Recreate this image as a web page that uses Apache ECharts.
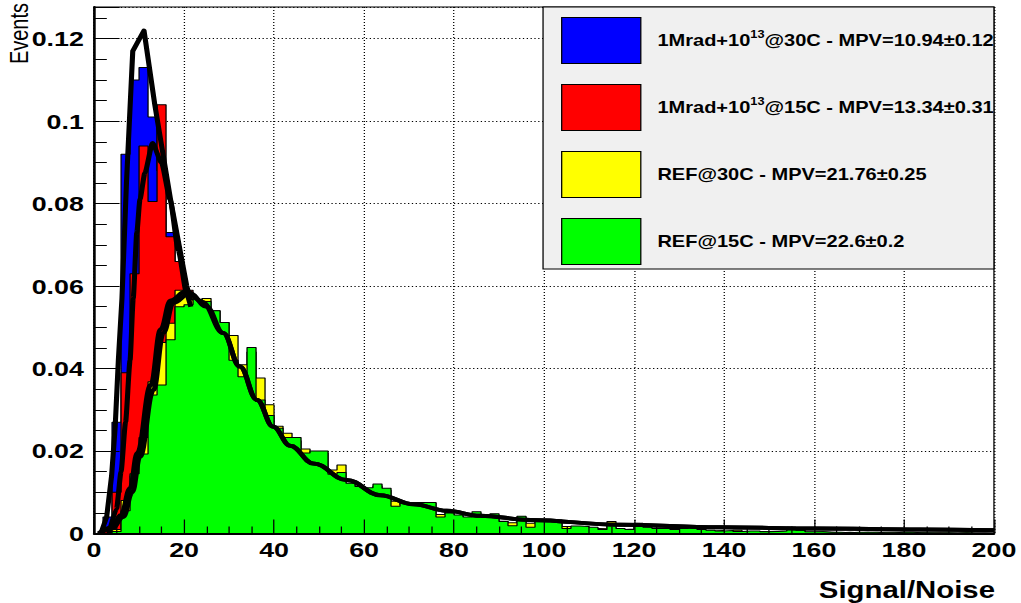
<!DOCTYPE html>
<html>
<head>
<meta charset="utf-8">
<script src="https://cdn.jsdelivr.net/npm/echarts@6/dist/echarts.min.js"></script>
<style>
html, body { margin: 0; padding: 0; background: #fff; overflow: hidden; }
/* the reference canvas is stretched sideways, so draw at 800px and widen */
#chart { width: 800px; height: 603px; transform: scaleX(1.27625); transform-origin: 0 0; }
</style>
</head>
<body>
<div id="chart"></div>
<script>
// Signal/Noise histograms, 100 bins of width 2 between 0 and 200
const binWidth = 2

const nameBlue = '1Mrad+10^13@30C - MPV=10.94±0.12'
const nameRed = '1Mrad+10^13@15C - MPV=13.34±0.31'
const nameYellow = 'REF@30C - MPV=21.76±0.25'
const nameGreen = 'REF@15C - MPV=22.6±0.2'

const blue30 = [
  0, 0.004, 0.027, 0.092, 0.110, 0.113, 0.101, 0.088, 0.073, 0.058,
  0.045, 0.036, 0.029, 0.024, 0.020, 0.017, 0.014, 0.012, 0.010, 0.009,
  0.008, 0.007, 0.0065, 0.006, 0.0055, 0.005, 0.0045, 0.004, 0.0038, 0.0035,
  0.003, 0.0028, 0.0025, 0.0022, 0.002, 0.0018, 0.0015, 0.0013, 0.001, 0.001,
  0.0008, 0.0008, 0.0007, 0.0006, 0.0005, 0, 0, 0, 0, 0,
  0, 0, 0, 0, 0, 0, 0, 0, 0, 0,
  0, 0, 0, 0, 0, 0, 0, 0, 0, 0,
  0, 0, 0, 0, 0, 0, 0, 0, 0, 0,
  0, 0, 0, 0, 0, 0, 0, 0, 0, 0,
  0, 0, 0, 0, 0, 0, 0, 0, 0, 0
]
const red15 = [
  0, 0.001, 0.010, 0.039, 0.063, 0.094, 0.0805, 0.104, 0.072, 0.066,
  0.059, 0.050, 0.042, 0.036, 0.031, 0.027, 0.023, 0.020, 0.017, 0.015,
  0.013, 0.011, 0.010, 0.009, 0.008, 0.007, 0.006, 0.0055, 0.005, 0.0045,
  0.004, 0.0035, 0.003, 0.003, 0.0025, 0.002, 0.002, 0.0015, 0.0012, 0.001,
  0.001, 0.0008, 0.0008, 0.0006, 0.0006, 0, 0, 0, 0, 0,
  0, 0, 0, 0, 0, 0, 0, 0, 0, 0,
  0, 0, 0, 0, 0, 0, 0, 0, 0, 0,
  0, 0, 0, 0, 0, 0, 0, 0, 0, 0,
  0, 0, 0, 0, 0, 0, 0, 0, 0, 0,
  0, 0, 0, 0, 0, 0, 0, 0, 0, 0
]
const yellow30 = [
  0, 0, 0.001, 0.008, 0.014, 0.0233, 0.0368, 0.0463, 0.051, 0.059,
  0.0575, 0.0565, 0.057, 0.054, 0.0512, 0.048, 0.0409, 0.044, 0.0377, 0.0312,
  0.026, 0.0243, 0.0225, 0.0205, 0.0195, 0.0195, 0.0154, 0.0166, 0.012, 0.011,
  0.0105, 0.0115, 0.0105, 0.0078, 0.007, 0.0072, 0.0073, 0.0074, 0.0046, 0.0055,
  0.0043, 0.0039, 0.0048, 0.0038, 0.0045, 0.003, 0.0026, 0.004, 0.0025, 0.0027,
  0.003, 0.0031, 0.0017, 0.0015, 0.0016, 0.0012, 0.0013, 0.0029, 0.001, 0.0011,
  0.0022, 0.0013, 0.0013, 0.001, 0.0012, 0.001, 0.0016, 0.0009, 0.0006, 0.0007,
  0.0005, 0.0008, 0.0005, 0.0005, 0.0005, 0.0004, 0.0005, 0.0014, 0.0007, 0.0003,
  0.0004, 0.0003, 0.0002, 0.0003, 0.0002, 0.0003, 0.0002, 0.0002, 0.0002, 0.0003,
  0.0002, 0.0002, 0.0001, 0.0002, 0.0001, 0.0001, 0.0002, 0.0001, 0.0001, 0
]
const green15 = [
  0, 0, 0.0005, 0.0055, 0.0145, 0.0193, 0.0336, 0.036, 0.047, 0.055,
  0.0555, 0.0568, 0.0563, 0.054, 0.0512, 0.042, 0.038, 0.0451, 0.0324, 0.0286,
  0.0255, 0.0233, 0.0233, 0.0195, 0.020, 0.020, 0.0144, 0.0148, 0.0122, 0.0114,
  0.0111, 0.012, 0.011, 0.0066, 0.0074, 0.0075, 0.0075, 0.0075, 0.004, 0.005,
  0.0045, 0.004, 0.0053, 0.004, 0.0048, 0.0029, 0.0019, 0.0042, 0.0015, 0.0029,
  0.0033, 0.0033, 0.0012, 0.0018, 0.0017, 0.0015, 0.001, 0.0025, 0.0012, 0.001,
  0.0025, 0.0015, 0.0012, 0.0012, 0.001, 0.0012, 0.0018, 0.001, 0.0008, 0.0006,
  0.0007, 0.0005, 0.0006, 0.0006, 0.0004, 0.0005, 0.0006, 0.0015, 0.0008, 0.0004,
  0.0004, 0.0003, 0.0003, 0.0002, 0.0003, 0.0003, 0.0003, 0.0002, 0.0002, 0.0003,
  0.0003, 0.0002, 0.0002, 0.0001, 0.0002, 0.0001, 0.0002, 0.0001, 0.0001, 0.0001
]

// Landau fit curves
const fitBlueX = [1.5, 2.8, 3.9, 4.7, 5.4, 6.2, 7.2, 8.6, 11.1, 13.5, 17.0, 20.6, 21.5]
const fitBlueY = [0, 0.004, 0.014, 0.026, 0.042, 0.057, 0.085, 0.117, 0.122, 0.104, 0.081, 0.060, 0.0565]
const fitRedX = [3.3, 5, 6, 7, 8, 8.7, 9.5, 10.2, 11.3, 13.0, 15.0, 16.9, 18.7, 20.6, 21.5]
const fitRedY = [0, 0.006, 0.015, 0.027, 0.042, 0.057, 0.073, 0.081, 0.0875, 0.0947, 0.0899, 0.081, 0.0688, 0.058, 0.055]
const fitYellowX = [1.0, 4, 6, 8, 9.6, 12.6, 14.8, 17.0, 20.5, 24, 28.7, 32.4, 36.2, 39.8, 43.6, 48.7, 56.1, 63.6, 71, 78.4, 85.8, 96.9, 116.9, 139, 161, 183.6, 200]
const fitYellowY = [0, 0.0015, 0.0045, 0.011, 0.0195, 0.036, 0.0495, 0.0565, 0.0588, 0.0562, 0.0486, 0.0405, 0.0324, 0.0259, 0.0213, 0.017, 0.013, 0.0093, 0.0071, 0.0055, 0.0043, 0.0033, 0.0021, 0.0015, 0.0012, 0.001, 0.0008]
const fitGreenX = [1.3, 4, 6.5, 8.5, 10.2, 13.2, 15.4, 17.6, 21.3, 25, 28.7, 32.4, 36.2, 39.8, 43.6, 48.7, 56.1, 63.6, 71, 78.4, 85.8, 96.9, 116.9, 139, 161, 183.6, 200]
const fitGreenY = [0, 0.0012, 0.004, 0.010, 0.0186, 0.0348, 0.0486, 0.0559, 0.0583, 0.055, 0.0486, 0.0405, 0.0324, 0.0259, 0.0213, 0.017, 0.013, 0.0093, 0.0071, 0.0055, 0.0043, 0.0033, 0.0021, 0.0015, 0.0012, 0.001, 0.0008]

const font = '"Liberation Sans", Arial, Helvetica, sans-serif'

// bin contents -> step points at the left bin edges, plus the last edge
function toSteps(values) {
  const pts = values.map((v, i) => [i * binWidth, v])
  pts.push([values.length * binWidth, values[values.length - 1]])
  return pts
}

function zip(xs, ys) {
  return xs.map((x, i) => [x, ys[i]])
}

// each histogram gets its own z so a later fill hides earlier outlines
function hist(name, values, fill, z) {
  return {
    name,
    type: 'line',
    step: 'end',
    data: toSteps(values),
    symbol: 'none',
    itemStyle: { color: fill },
    lineStyle: { color: '#000', width: 1 },
    areaStyle: { color: fill, opacity: 1 },
    z
  }
}

function fit(name, xs, ys, smooth) {
  return {
    name,
    type: 'line',
    data: zip(xs, ys),
    symbol: 'none',
    smooth,
    smoothMonotone: 'x',
    lineStyle: { color: '#000', width: 4, join: 'round' },
    z: 6
  }
}

function legendText(name) {
  return '{t|' + name.replace(/\^(\d+)/, '}{s|$1}{t|') + '}'
}

const chart = echarts.init(document.getElementById('chart'), null, { renderer: 'svg' })

chart.setOption({
  animation: false,
  backgroundColor: '#fff',
  grid: {
    left: 73.7, right: 21.2, top: 7, bottom: 69.5,
    show: true, borderColor: '#000', borderWidth: 1, backgroundColor: 'transparent',
    outerBoundsMode: 'none'
  },
  xAxis: [
    {
      type: 'value', min: 0, max: 200, interval: 20, position: 'bottom', z: 0,
      axisLine: { show: false }, axisTick: { show: false }, axisLabel: { show: false },
      splitLine: { show: true, lineStyle: { color: '#000', width: 1, type: [1, 2] } }
    },
    {
      type: 'value', min: 0, max: 200, interval: 20, position: 'bottom', z: 10,
      axisLine: { show: true, onZero: false, lineStyle: { color: '#000', width: 2 } },
      axisTick: { show: true, inside: true, length: 14, lineStyle: { color: '#000', width: 1 } },
      minorTick: { show: true, splitNumber: 4, length: 7, lineStyle: { color: '#000', width: 1 } },
      axisLabel: { color: '#000', fontFamily: font, fontWeight: 'bold', fontSize: 21, margin: 6 },
      splitLine: { show: false }
    }
  ],
  yAxis: [
    {
      type: 'value', min: 0, max: 0.1277, interval: 0.02, z: 0,
      axisLine: { show: false }, axisTick: { show: false }, axisLabel: { show: false },
      splitLine: { show: true, lineStyle: { color: '#000', width: 1, type: [1, 2] } }
    },
    {
      type: 'value', min: 0, max: 0.1277, interval: 0.02, position: 'left', z: 10,
      axisLine: { show: true, onZero: false, lineStyle: { color: '#000', width: 2 } },
      axisTick: { show: true, inside: true, length: 20, lineStyle: { color: '#000', width: 1 } },
      minorTick: { show: true, splitNumber: 4, length: 10, lineStyle: { color: '#000', width: 1 } },
      axisLabel: { color: '#000', fontFamily: font, fontWeight: 'bold', fontSize: 21, margin: 8, showMaxLabel: false },
      splitLine: { show: false }
    }
  ],
  legend: {
    orient: 'vertical',
    left: 439.6,
    top: 17,
    padding: 0,
    itemWidth: 62,
    itemHeight: 46,
    itemGap: 20,
    icon: 'rect',
    selectedMode: false,
    z: 8,
    itemStyle: { borderColor: '#000', borderWidth: 1 },
    data: [
      { name: nameBlue, itemStyle: { color: '#0000ff' } },
      { name: nameRed, itemStyle: { color: '#ff0000' } },
      { name: nameYellow, itemStyle: { color: '#ffff00' } },
      { name: nameGreen, itemStyle: { color: '#00ff00' } }
    ],
    formatter: legendText,
    textStyle: {
      padding: [0, 0, 0, 8],
      rich: {
        t: { fontFamily: font, fontWeight: 'bold', fontSize: 15.7, color: '#000', lineHeight: 22 },
        s: { fontFamily: font, fontWeight: 'bold', fontSize: 10, color: '#000', lineHeight: 12, verticalAlign: 'top' }
      }
    }
  },
  graphic: [
    {
      type: 'rect', z: 7,
      shape: { x: 425.5, y: 7, width: 353.3, height: 262 },
      style: { fill: '#f0f0f0', stroke: '#000', lineWidth: 1 }
    },
    {
      type: 'text', z: 7, x: 15, y: 3, rotation: Math.PI / 2,
      style: { text: 'Events', fill: '#000', font: '20px ' + font, textAlign: 'right', textVerticalAlign: 'middle' }
    },
    {
      type: 'text', z: 7, x: 779.6, y: 590,
      style: { text: 'Signal/Noise', fill: '#000', font: 'bold 23px ' + font, textAlign: 'right', textVerticalAlign: 'middle' }
    }
  ],
  series: [
    hist(nameBlue, blue30, '#0000ff', 2),
    hist(nameRed, red15, '#ff0000', 3),
    hist(nameYellow, yellow30, '#ffff00', 4),
    hist(nameGreen, green15, '#00ff00', 5),
    fit('fit blue', fitBlueX, fitBlueY, false),
    fit('fit red', fitRedX, fitRedY, 0.2),
    fit('fit yellow', fitYellowX, fitYellowY, 0.4),
    fit('fit green', fitGreenX, fitGreenY, 0.4)
  ]
})
</script>
</body>
</html>
